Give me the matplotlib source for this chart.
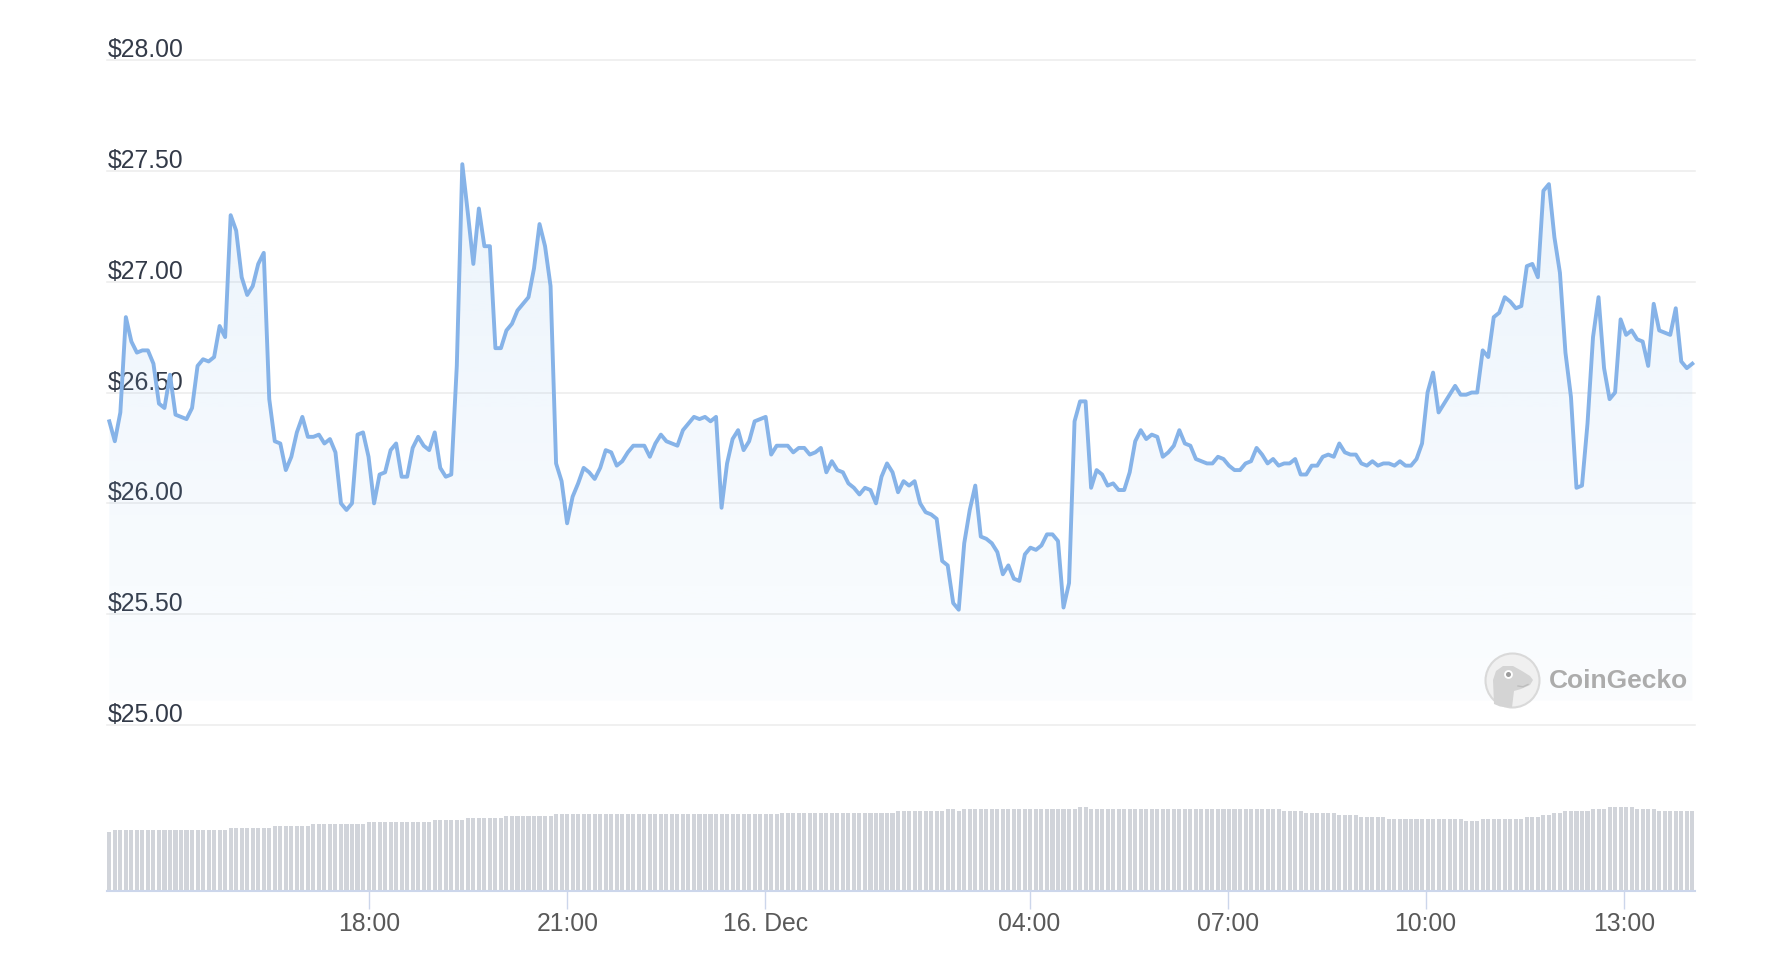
import numpy as np
import pandas as pd
import matplotlib
matplotlib.use("Agg")   # no display in the sandbox
import matplotlib.pyplot as plt
import matplotlib.dates as mdates
import matplotlib.transforms as mtransforms
from matplotlib.colors import to_rgb
from matplotlib.patches import Circle, Polygon

plt.rcParams["font.family"] = ["Liberation Sans", "DejaVu Sans"]

W, H = 1770, 974

# ~5 minute price samples over 24h (USD)
price = [
    26.37, 26.28, 26.41, 26.84, 26.73, 26.68, 26.69, 26.69, 26.63, 26.45, 26.43, 26.58,
    26.40, 26.39, 26.38, 26.43, 26.62, 26.65, 26.64, 26.66, 26.80, 26.75, 27.30, 27.23,
    27.02, 26.94, 26.98, 27.08, 27.13, 26.47, 26.28, 26.27, 26.15, 26.21, 26.32, 26.39,
    26.30, 26.30, 26.31, 26.27, 26.29, 26.23, 26.00, 25.97, 26.00, 26.31, 26.32, 26.21,
    26.00, 26.13, 26.14, 26.24, 26.27, 26.12, 26.12, 26.25, 26.30, 26.26, 26.24, 26.32,
    26.16, 26.12, 26.13, 26.62, 27.53, 27.31, 27.08, 27.33, 27.16, 27.16, 26.70, 26.70,
    26.78, 26.81, 26.87, 26.90, 26.93, 27.06, 27.26, 27.16, 26.98, 26.18, 26.10, 25.91,
    26.03, 26.09, 26.16, 26.14, 26.11, 26.16, 26.24, 26.23, 26.17, 26.19, 26.23, 26.26,
    26.26, 26.26, 26.21, 26.27, 26.31, 26.28, 26.27, 26.26, 26.33, 26.36, 26.39, 26.38,
    26.39, 26.37, 26.39, 25.98, 26.18, 26.29, 26.33, 26.24, 26.28, 26.37, 26.38, 26.39,
    26.22, 26.26, 26.26, 26.26, 26.23, 26.25, 26.25, 26.22, 26.23, 26.25, 26.14, 26.19,
    26.15, 26.14, 26.09, 26.07, 26.04, 26.07, 26.06, 26.00, 26.12, 26.18, 26.14, 26.05,
    26.10, 26.08, 26.10, 26.00, 25.96, 25.95, 25.93, 25.74, 25.72, 25.55, 25.52, 25.82,
    25.97, 26.08, 25.85, 25.84, 25.82, 25.78, 25.68, 25.72, 25.66, 25.65, 25.77, 25.80,
    25.79, 25.81, 25.86, 25.86, 25.83, 25.53, 25.64, 26.37, 26.46, 26.46, 26.07, 26.15,
    26.13, 26.08, 26.09, 26.06, 26.06, 26.14, 26.28, 26.33, 26.29, 26.31, 26.30, 26.21,
    26.23, 26.26, 26.33, 26.27, 26.26, 26.20, 26.19, 26.18, 26.18, 26.21, 26.20, 26.17,
    26.15, 26.15, 26.18, 26.19, 26.25, 26.22, 26.18, 26.20, 26.17, 26.18, 26.18, 26.20,
    26.13, 26.13, 26.17, 26.17, 26.21, 26.22, 26.21, 26.27, 26.23, 26.22, 26.22, 26.18,
    26.17, 26.19, 26.17, 26.18, 26.18, 26.17, 26.19, 26.17, 26.17, 26.20, 26.27, 26.50,
    26.59, 26.41, 26.45, 26.49, 26.53, 26.49, 26.49, 26.50, 26.50, 26.69, 26.66, 26.84,
    26.86, 26.93, 26.91, 26.88, 26.89, 27.07, 27.08, 27.02, 27.41, 27.44, 27.20, 27.04,
    26.68, 26.48, 26.07, 26.08, 26.36, 26.75, 26.93, 26.61, 26.47, 26.50, 26.83, 26.76,
    26.78, 26.74, 26.73, 26.62, 26.90, 26.78, 26.77, 26.76, 26.88, 26.64, 26.61, 26.63,
]

# volume bars: level and how many consecutive samples share it
vol_levels = [59, 61, 62.5, 64.5, 66.5, 68.5, 70.5, 72.5, 74.5, 76.5, 78, 80, 82, 80, 82, 84,
              82, 80, 78, 76, 74, 72, 70, 72, 74, 76, 78, 80, 82, 84, 82, 80]
vol_counts = [1, 21, 8, 7, 10, 12, 6, 7, 9, 41, 21, 9, 2, 1, 21, 2,
              35, 4, 6, 4, 5, 14, 3, 8, 3, 2, 2, 5, 3, 5, 4, 7]

t_start = "2023-12-15 14:03:45"
t_end = "2023-12-16 14:02:20"

tick_times = ["2023-12-15 18:00", "2023-12-15 21:00", "2023-12-16 00:00", "2023-12-16 04:00",
              "2023-12-16 07:00", "2023-12-16 10:00", "2023-12-16 13:00"]
tick_labels = ["18:00", "21:00", "16. Dec", "04:00", "07:00", "10:00", "13:00"]
y_ticks = [25.0, 25.5, 26.0, 26.5, 27.0, 27.5, 28.0]

LINE = "#86b3e8"
GRID = "#ececec"
BAR = "#d1d4da"
AXIS = "#ccd6eb"

times = pd.date_range(t_start, t_end, periods=len(price))
tn = mdates.date2num(times.to_pydatetime())
volume = np.repeat(vol_levels, vol_counts)
x_lo = tn[0] - 2.1 / 1440
x_hi = tn[-1] + 2.45 / 1440
fill_floor = 25.11


def px_box(left, top, right, bottom):
    return [left / W, 1 - bottom / H, (right - left) / W, (bottom - top) / H]


fig = plt.figure(figsize=(W / 100, H / 100), dpi=100)
fig.patch.set_facecolor("white")

# price pane
ax = fig.add_axes(px_box(107, 60, 1695, 725))
ax.patch.set_alpha(0)
for s in ax.spines.values():
    s.set_visible(False)
ax.tick_params(left=False, bottom=False, labelleft=False, labelbottom=False)

for v in y_ticks:
    ax.axhline(v, color=GRID, lw=1.1, zorder=0, clip_on=False)
label_tr = mtransforms.offset_copy(ax.get_yaxis_transform(), fig=fig, x=1.0, y=3, units="dots")
for v in y_ticks:
    ax.text(0, v, f"${v:.2f}", transform=label_tr, ha="left", va="baseline",
            fontsize=17.8, color="#333a48", zorder=1)

poly = ax.fill_between(tn, price, fill_floor, facecolor="none", edgecolor="none")
rgb = to_rgb("#7cb5ec")
grad = np.zeros((256, 1, 4))
grad[..., :3] = rgb
grad[:, 0, 3] = np.linspace(0.17, 0.03, 256)
img = ax.imshow(grad, extent=[x_lo, x_hi, fill_floor, 28.0], origin="upper",
                aspect="auto", zorder=2, interpolation="bilinear")
img.set_clip_path(poly.get_paths()[0], transform=ax.transData)

ax.plot(tn, price, color=LINE, lw=2.8, solid_joinstyle="round", zorder=3)
ax.set_xlim(x_lo, x_hi)
ax.set_ylim(25.0, 28.0)

# volume pane
axv = fig.add_axes(px_box(107, 790.5, 1695, 890.5))
axv.patch.set_alpha(0)
axv.bar(tn, volume, width=3.7 / 1440, color=BAR, linewidth=0, align="center")
axv.set_xlim(x_lo, x_hi)
axv.set_ylim(0, 100)
for side in ("top", "left", "right"):
    axv.spines[side].set_visible(False)
axv.spines["bottom"].set_color(AXIS)
axv.spines["bottom"].set_linewidth(1.5)
axv.set_yticks([])
axv.set_xticks(mdates.date2num(pd.to_datetime(tick_times).to_pydatetime()), labels=tick_labels)
axv.tick_params(axis="x", length=13, width=1, color=AXIS, pad=2.5,
                labelsize=17.8, labelcolor="#595959")

# CoinGecko watermark
ov = fig.add_axes([0, 0, 1, 1])
ov.set_xlim(0, W)
ov.set_ylim(H, 0)
ov.axis("off")
ov.patch.set_alpha(0)
ov.add_patch(Circle((1512.5, 680.5), 27, facecolor="#f0f0f0", edgecolor="#d9d9d9", lw=1.5))
head = [(1494, 704), (1493, 680), (1496, 671), (1503, 666), (1513, 666), (1522, 671),
        (1530, 676), (1533, 680), (1530, 685), (1521, 689), (1514, 691), (1512, 707.5),
        (1500, 706.5)]
ov.add_patch(Polygon(head, closed=True, facecolor="#d4d4d4", edgecolor="none"))
ov.add_patch(Circle((1508.5, 674.5), 4.4, facecolor="white", edgecolor="none"))
ov.add_patch(Circle((1508.5, 674.5), 2.5, facecolor="#9c9c9c", edgecolor="none"))
ov.plot([1518, 1523, 1528], [686, 686.8, 684.5], color="#bdbdbd", lw=1)
ov.text(1549, 681, "CoinGecko", ha="left", va="center", fontsize=19,
        fontweight="bold", color="#acacac")

fig.savefig("out.png", dpi=100)
plt.close(fig)
